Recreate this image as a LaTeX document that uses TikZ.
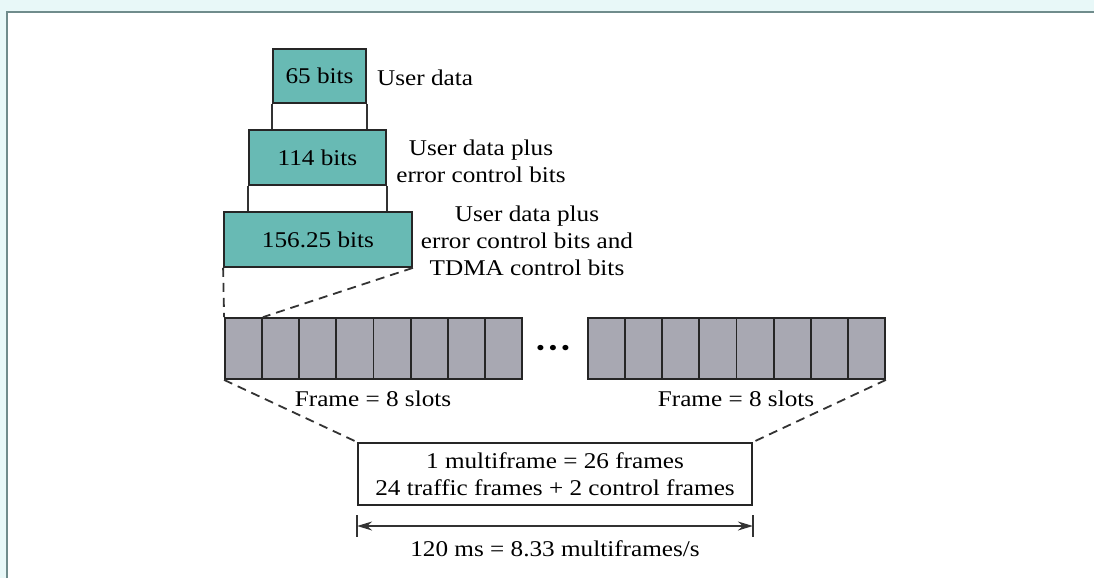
\documentclass[tikz,border=0pt]{standalone}
\usepackage{fontspec}
\setmainfont[FakeStretch=1.12]{Liberation Serif}
\usepackage{tikz}
\usetikzlibrary{arrows.meta, positioning}

\definecolor{bitsteal}{RGB}{104,186,180}
\definecolor{slotgrey}{RGB}{168,168,178}
\definecolor{edgeteal}{RGB}{112,140,140}
\definecolor{paleteal}{RGB}{232,248,248}

\begin{document}
\begin{tikzpicture}[x=1pt, y=-1pt,
    font=\fontsize{22.5}{27}\selectfont,
    bits style/.style={rectangle, draw=black!85, line width=1.8pt, fill=bitsteal, inner sep=0pt},
    slot style/.style={rectangle, draw=black!85, line width=1.8pt, fill=slotgrey, minimum width=37.125pt, minimum height=61pt, inner sep=0pt},
    label style/.style={align=center, inner sep=0pt},
    link style/.style={line width=1.6pt, draw=black!80},
    dash style/.style={line width=1.8pt, draw=black!80, dash pattern=on 9pt off 6pt}
]
\useasboundingbox (0,0) rectangle (1094,578);
\fill[paleteal] (0,0) rectangle (1094,578);
\fill[white] (7,12) rectangle (1094,578);
\draw[edgeteal, line width=2.2pt] (7,578) -- (7,12) -- (1094,12);

% bit blocks
\node[bits style, minimum width=93pt, minimum height=54pt] (bits65) at (319.5,76) {65 bits};
\node[bits style, minimum width=137pt, minimum height=55pt] (bits114) at (317.5,157.5) {114 bits};
\node[bits style, minimum width=188pt, minimum height=55pt] (bits156) at (318,239.5) {156.25 bits};

\node[label style, anchor=west] (lab65) at (377,78) {User data};
\node[label style] (lab114) at (481,161) {User data plus\\error control bits};
\node[label style] (lab156) at (527,241) {User data plus\\error control bits and\\TDMA control bits};

\draw[link style] (bits65.south west) -- (bits65.south west |- bits114.north);
\draw[link style] (bits65.south east) -- (bits65.south east |- bits114.north);
\draw[link style] (bits114.south west) -- (bits114.south west |- bits156.north);
\draw[link style] (bits114.south east) -- (bits114.south east |- bits156.north);

% two frames of 8 slots
\foreach \i in {1,...,8} {
    \node[slot style] (slotL\i) at ({225+37.125*(\i-0.5)},348.5) {};
    \node[slot style] (slotR\i) at ({588+37.125*(\i-0.5)},348.5) {};
}
\node[label style] (dots) at (553,350) {•\,•\,•};

\node[label style] (frameL) at (373,399) {Frame = 8 slots};
\node[label style] (frameR) at (736,399) {Frame = 8 slots};

\draw[dash style] (bits156.south west) -- (slotL1.north west);
\draw[dash style] (bits156.south east) -- (slotL1.north east);

% multiframe
\node[rectangle, draw=black!85, line width=1.8pt, align=center, minimum width=394pt, minimum height=62pt, inner sep=0pt] (multi) at (555,474) {1 multiframe = 26 frames\\24 traffic frames + 2 control frames};

\draw[dash style] (slotL1.south west) -- (multi.north west);
\draw[dash style] (slotR8.south east) -- (multi.north east);

% duration
\coordinate (durL) at (multi.south west |- 0,526);
\coordinate (durR) at (multi.south east |- 0,526);
\draw[link style] (durL) ++(0,-11) -- ++(0,22);
\draw[link style] (durR) ++(0,-11) -- ++(0,22);
\draw[link style, {Stealth[length=15pt, width=9pt]}-{Stealth[length=15pt, width=9pt]}] (durL) -- (durR);
\node[label style] (durlab) at (555,549) {120 ms = 8.33 multiframes/s};
\end{tikzpicture}
\end{document}
